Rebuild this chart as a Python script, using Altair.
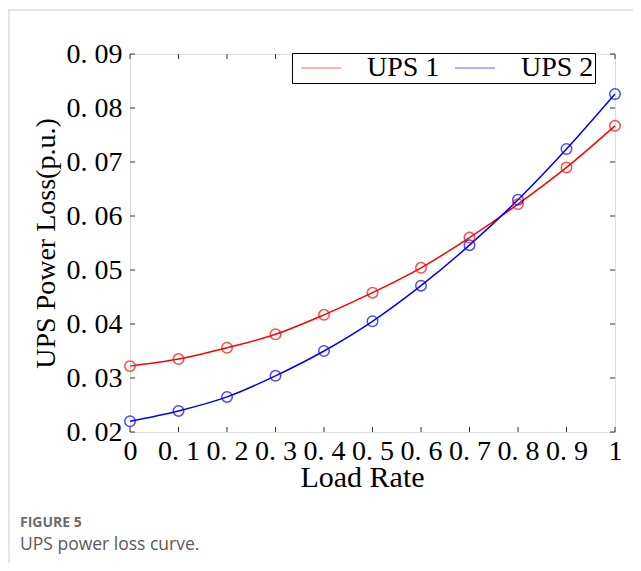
import altair as alt
import pandas as pd

load_rate = [0.0, 0.1, 0.2, 0.3, 0.4, 0.5, 0.6, 0.7, 0.8, 0.9, 1.0]
ups1_loss = [0.0322, 0.0335, 0.0356, 0.0381, 0.0417, 0.0458, 0.0504, 0.0560, 0.0622, 0.0690, 0.0767]
ups2_loss = [0.0220, 0.0239, 0.0265, 0.0304, 0.0350, 0.0405, 0.0471, 0.0546, 0.0630, 0.0724, 0.0826]
series_names = ["UPS 1", "UPS 2"]
series_colors = ["#ff0000", "#0000ff"]
x_ticks = [0.0, 0.1, 0.2, 0.3, 0.4, 0.5, 0.6, 0.7, 0.8, 0.9, 1.0]
y_ticks = [0.02, 0.03, 0.04, 0.05, 0.06, 0.07, 0.08, 0.09]
caption_label = "FIGURE 5"
caption_text = "UPS power loss curve."

W, H = 485, 378

rows = []
for name, vals in zip(series_names, [ups1_loss, ups2_loss]):
    for lr, v in zip(load_rate, vals):
        rows.append({"Load": lr, "Loss": v, "Series": name})
df = pd.DataFrame(rows)

xs = alt.Scale(domain=[0, 1], nice=False, zero=False)
ys = alt.Scale(domain=[0.02, 0.09], nice=False, zero=False)
serif = "Liberation Serif"

x_axis = alt.Axis(
    values=x_ticks, ticks=False, domain=False, grid=False,
    labelExpr="replace(format(datum.value, '.1~f'), '.', '. ')",
    labelFont=serif, labelFontSize=28, labelColor="black", labelPadding=5,
    labelOverlap=False, labelFlush=False, labelBound=False,
    title="Load Rate", titleFont=serif, titleFontSize=30, titleFontWeight="normal",
    titleColor="black", titlePadding=-3, titleX=232,
)
y_axis = alt.Axis(
    values=y_ticks, ticks=False, domain=False, grid=False,
    labelExpr="replace(format(datum.value, '.2f'), '.', '. ')",
    labelFont=serif, labelFontSize=28, labelColor="black", labelPadding=8,
    labelOverlap=False, labelFlush=False, labelBound=False,
    title="UPS Power Loss(p.u.)", titleFont=serif, titleFontSize=28, titleFontWeight="normal",
    titleColor="black", titlePadding=6,
)

base = alt.Chart(df).encode(
    x=alt.X("Load:Q", scale=xs, axis=x_axis),
    y=alt.Y("Loss:Q", scale=ys, axis=y_axis),
)

lines = base.mark_line(interpolate="monotone", strokeWidth=1.5).encode(
    color=alt.Color(
        "Series:N",
        scale=alt.Scale(domain=series_names, range=series_colors),
        legend=alt.Legend(
            title=None, orient="none", legendX=162, legendY=-1, direction="horizontal",
            strokeColor="black", fillColor="white", padding=1,
            symbolType="M-4,0L4,0", symbolSize=100, symbolStrokeWidth=1, symbolOpacity=0.6,
            symbolOffset=14,
            labelFont=serif, labelFontSize=28, labelColor="black", labelOffset=32,
            labelExpr="datum.value == 'UPS 2' ? datum.value + '\\u00a0\\u00a0' : datum.value",
            columnPadding=7,
        ),
    ),
)

points = base.mark_point(filled=False, size=110, strokeWidth=1.5).encode(
    stroke=alt.Stroke("Series:N", scale=alt.Scale(domain=series_names, range=series_colors), legend=None),
)

xt = pd.DataFrame({"Load": x_ticks})
yt = pd.DataFrame({"Loss": y_ticks})
tick_color = "#333"
tb = alt.Chart(xt).mark_rule(color=tick_color, strokeWidth=1).encode(
    x=alt.X("Load:Q", scale=xs), y=alt.value(H), y2=alt.value(H - 5))
tt = alt.Chart(xt).mark_rule(color=tick_color, strokeWidth=1).encode(
    x=alt.X("Load:Q", scale=xs), y=alt.value(0), y2=alt.value(5))
tl = alt.Chart(yt).mark_rule(color=tick_color, strokeWidth=1).encode(
    y=alt.Y("Loss:Q", scale=ys), x=alt.value(0), x2=alt.value(5))
tr = alt.Chart(yt).mark_rule(color=tick_color, strokeWidth=1).encode(
    y=alt.Y("Loss:Q", scale=ys), x=alt.value(W), x2=alt.value(W - 5))

frame_top = alt.Chart(pd.DataFrame({"k": [0]})).mark_rule(color="#cccccc", strokeWidth=1).encode(
    x=alt.value(-122), x2=alt.value(520), y=alt.value(-44))
frame_left = alt.Chart(pd.DataFrame({"k": [0]})).mark_rule(color="#cccccc", strokeWidth=1).encode(
    x=alt.value(-121), y=alt.value(-44), y2=alt.value(520))

cap1 = alt.Chart(pd.DataFrame({"t": [caption_label]})).mark_text(
    align="left", baseline="middle", font="Open Sans", fontSize=14, fontWeight="bold", color="#6b6b6b"
).encode(text="t:N", x=alt.value(-110), y=alt.value(469))
cap2 = alt.Chart(pd.DataFrame({"t": [caption_text]})).mark_text(
    align="left", baseline="middle", font="Open Sans", fontSize=17.5, color="#5a5a5a"
).encode(text="t:N", x=alt.value(-110), y=alt.value(491))

chart = alt.layer(lines, points, tb, tt, tl, tr, frame_top, frame_left, cap1, cap2).properties(
    width=W, height=H,
    autosize=alt.AutoSizeParams(type="none"),
    padding={"left": 122, "top": 46, "right": 18, "bottom": 131},
).configure_view(stroke="#222", strokeWidth=1.5).configure(background="white")

chart.save("out.html", embed_options={"renderer": "svg", "actions": False})
